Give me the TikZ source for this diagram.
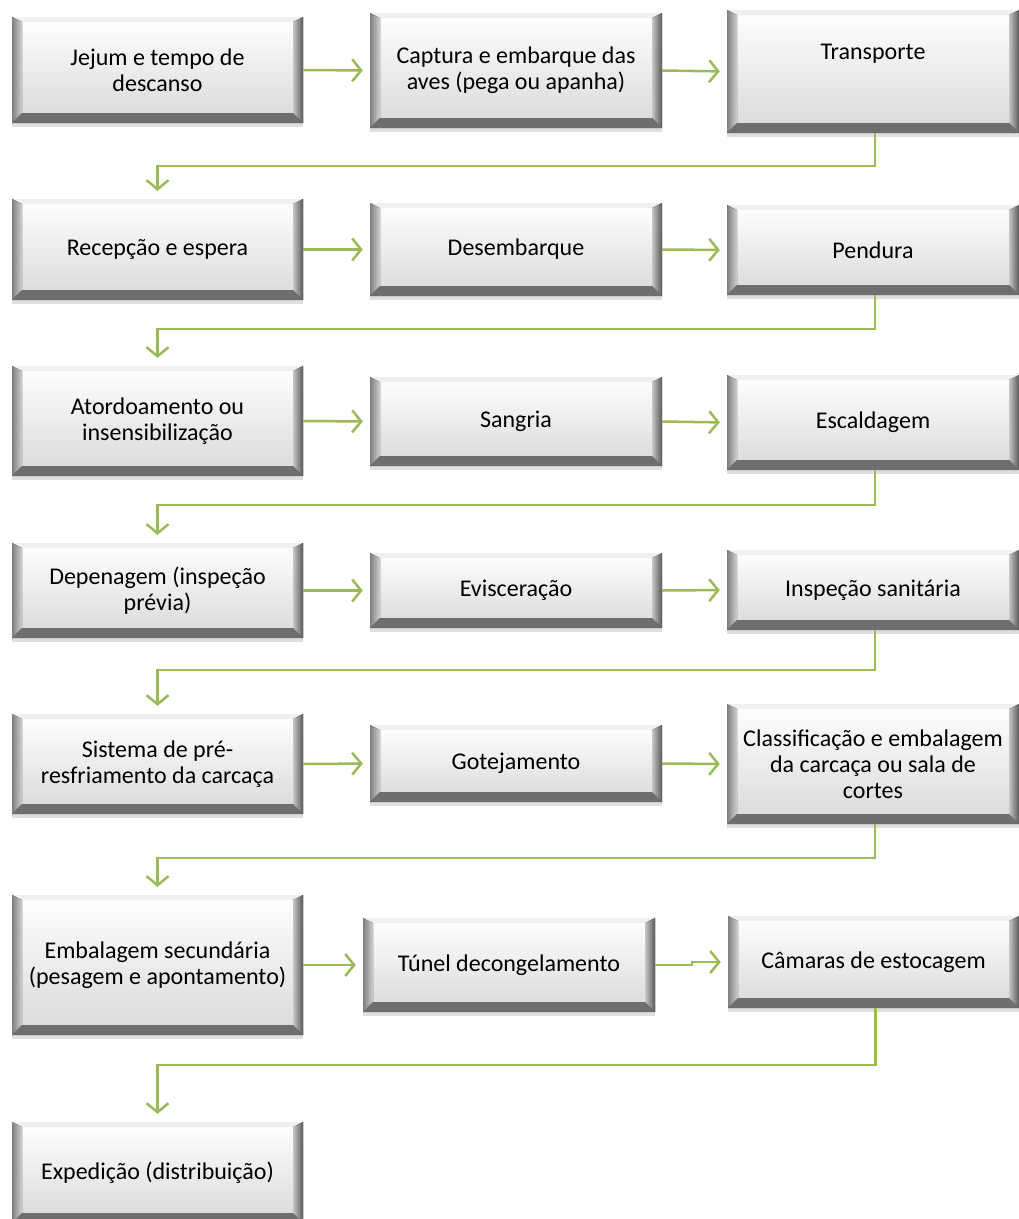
\documentclass[tikz,border=0pt]{standalone}
\usepackage{fontspec}
\setmainfont{Carlito}
\usetikzlibrary{arrows.meta, shadows}

\definecolor{flowgreen}{RGB}{155,187,89}

\tikzset{
  stepbox/.style={rectangle, inner sep=0pt, align=center,
    font=\fontsize{24}{26}\selectfont,
    top color=white, bottom color=black!15,
    drop shadow={opacity=0.25, shadow xshift=0pt, shadow yshift=-4pt},
    path picture={
      % top bevel
      \fill[black!6] (path picture bounding box.north west) -- (path picture bounding box.north east)
        -- ([shift={(-10pt,-5pt)}]path picture bounding box.north east) -- ([shift={(10pt,-5pt)}]path picture bounding box.north west) -- cycle;
      % left bevel
      \fill[left color=black!50, right color=black!18] (path picture bounding box.south west)
        -- ([shift={(10pt,10pt)}]path picture bounding box.south west) -- ([shift={(10pt,-5pt)}]path picture bounding box.north west)
        -- (path picture bounding box.north west) -- cycle;
      % right bevel
      \fill[left color=black!22, right color=black!65] (path picture bounding box.south east)
        -- ([shift={(-10pt,10pt)}]path picture bounding box.south east) -- ([shift={(-10pt,-5pt)}]path picture bounding box.north east)
        -- (path picture bounding box.north east) -- cycle;
      % bottom bevel
      \fill[black!57] (path picture bounding box.south west) -- (path picture bounding box.south east)
        -- ([shift={(-10pt,10pt)}]path picture bounding box.south east) -- ([shift={(10pt,10pt)}]path picture bounding box.south west) -- cycle;
    }},
  flow/.style={draw=flowgreen, line width=2.5pt, line join=miter,
    -{Straight Barb[length=9pt,width=22pt]}}
}

\begin{document}
\begin{tikzpicture}[x=1pt,y=-1pt]
\useasboundingbox (0,0) rectangle (1019,1219);

% row 1
\node[stepbox, minimum width=291pt, minimum height=106pt] (jejum) at (157.5,70) {Jejum e tempo de\\descanso};
\node[stepbox, minimum width=292pt, minimum height=115pt] (captura) at (516,70.5) {Captura e embarque das\\aves (pega ou apanha)};
\node[stepbox, minimum width=292pt, minimum height=123pt, text height=16pt, text depth=40pt] (transporte) at (873,71.5) {Transporte};

% row 2
\node[stepbox, minimum width=291pt, minimum height=101pt] (recepcao) at (157.5,249.5) {Recepção e espera};
\node[stepbox, minimum width=292pt, minimum height=93pt] (desembarque) at (516,249.5) {Desembarque};
\node[stepbox, minimum width=292pt, minimum height=90pt] (pendura) at (873,250) {Pendura};

% row 3
\node[stepbox, minimum width=291pt, minimum height=110pt] (atordoamento) at (157.5,421) {Atordoamento ou\\insensibilização};
\node[stepbox, minimum width=292pt, minimum height=89pt] (sangria) at (516,421.5) {Sangria};
\node[stepbox, minimum width=292pt, minimum height=95pt] (escaldagem) at (873,422.5) {Escaldagem};

% row 4
\node[stepbox, minimum width=291pt, minimum height=95pt] (depenagem) at (157.5,590.5) {Depenagem (inspeção\\prévia)};
\node[stepbox, minimum width=292pt, minimum height=75pt] (evisceracao) at (516,590.5) {Evisceração};
\node[stepbox, minimum width=292pt, minimum height=80pt] (inspecao) at (873,590) {Inspeção sanitária};

% row 5
\node[stepbox, minimum width=291pt, minimum height=100pt] (sistema) at (157.5,764) {Sistema de pré-\\resfriamento da carcaça};
\node[stepbox, minimum width=292pt, minimum height=77pt] (gotejamento) at (516,763.5) {Gotejamento};
\node[stepbox, minimum width=292pt, minimum height=120pt] (classificacao) at (873,764) {Classificação e embalagem\\da carcaça ou sala de\\cortes};

% row 6
\node[stepbox, minimum width=291pt, minimum height=140pt] (embalagem) at (157.5,965) {Embalagem secundária\\(pesagem e apontamento)};
\node[stepbox, minimum width=292pt, minimum height=94pt] (tunel) at (509,965) {Túnel decongelamento};
\node[stepbox, minimum width=291pt, minimum height=92pt] (camaras) at (873.5,962) {Câmaras de estocagem};

% row 7
\node[stepbox, minimum width=291pt, minimum height=101pt] (expedicao) at (157.5,1172.5) {Expedição (distribuição)};

% arrows inside the rows
\foreach \a/\b in {jejum/captura, captura/transporte, recepcao/desembarque, desembarque/pendura,
  atordoamento/sangria, sangria/escaldagem, depenagem/evisceracao, evisceracao/inspecao,
  sistema/gotejamento, gotejamento/classificacao, embalagem/tunel}
  \draw[flow, shorten >=7pt] (\a.east) -- (\b.west);
\draw[flow, shorten >=7pt] (tunel.east) -- ++(37,0) |- (camaras.west); % small step

% arrows from one row to the next
\foreach \a/\b/\h in {transporte/recepcao/33, pendura/atordoamento/34, escaldagem/depenagem/35,
  inspecao/sistema/40, classificacao/embalagem/34, camaras/expedicao/57}
  \draw[flow, shorten >=8pt] ([xshift=2pt]\a.south) -- ++(0,\h) -| (\b.north);

\end{tikzpicture}
\end{document}
